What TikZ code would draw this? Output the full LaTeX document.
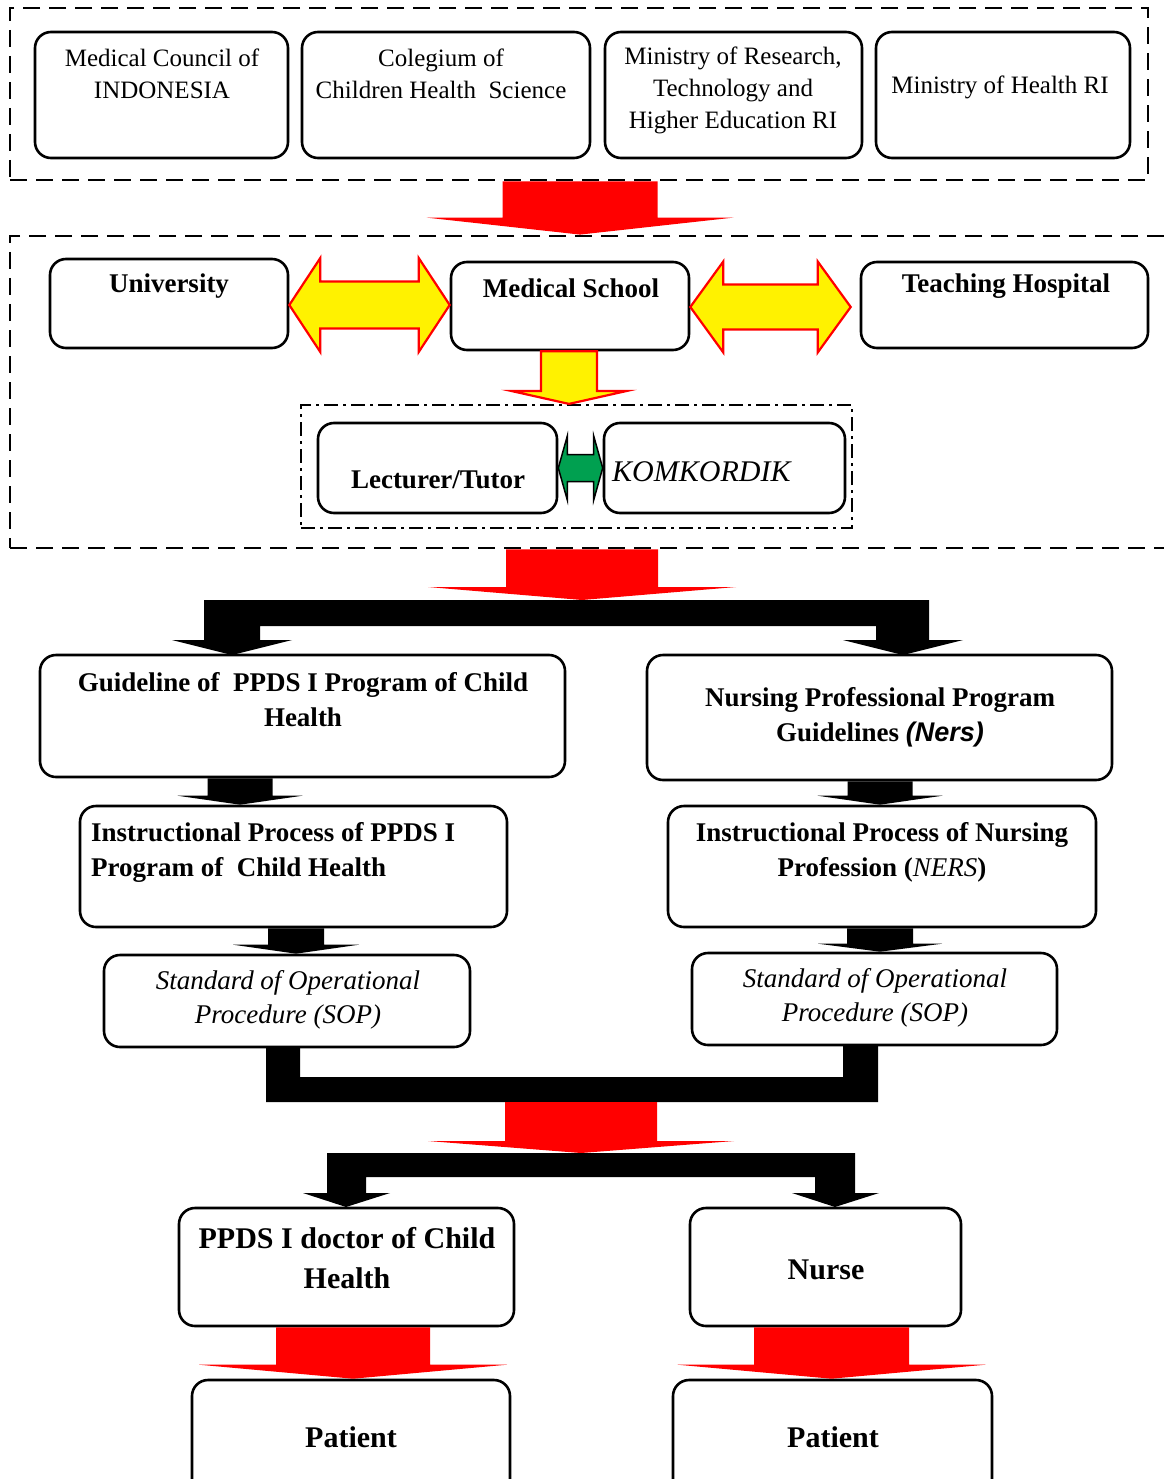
\documentclass[tikz,border=0pt]{standalone}
\usepackage{fontspec}
\setmainfont{Liberation Serif}
\newfontfamily\sansf{Liberation Sans}
\usetikzlibrary{calc}
\definecolor{grn}{RGB}{0,160,80}
% box from (x1,y1) to (x2,y2) in pixel coordinates
\newcommand\bx[6][]{\node[#1, minimum width={(#5)-(#3)}, minimum height={(#6)-(#4)}] (#2) at ({((#3)+(#5))/2},{((#4)+(#6))/2}) {};}
% vertical block arrow: start point, tip point, shaft half width, head half width, head length
\newcommand\blkdown[6][]{\path[#1] let \p1=#2, \p2=#3 in (\x1-#4pt,\y1) -- (\x1-#4pt,\y2+#6pt) -- (\x1-#5pt,\y2+#6pt) -- (\x1,\y2) -- (\x1+#5pt,\y2+#6pt) -- (\x1+#4pt,\y2+#6pt) -- (\x1+#4pt,\y1) -- cycle;}
% horizontal double block arrow: left tip, right tip, shaft half height, head half height, head length
\newcommand\blkdbl[6][]{\path[#1] let \p1=#2, \p2=#3 in (\x1,\y1) -- (\x1+#6pt,\y1+#5pt) -- (\x1+#6pt,\y1+#4pt) -- (\x2-#6pt,\y1+#4pt) -- (\x2-#6pt,\y1+#5pt) -- (\x2,\y1) -- (\x2-#6pt,\y1-#5pt) -- (\x2-#6pt,\y1-#4pt) -- (\x1+#6pt,\y1-#4pt) -- (\x1+#6pt,\y1-#5pt) -- cycle;}
\begin{document}
\begin{tikzpicture}[x=1pt,y=-1pt,
  box/.style={draw=black, line width=2.6pt, rounded corners=16pt, fill=white, inner sep=0pt},
  grp/.style={draw=black, line width=2.8pt, dash pattern=on 17pt off 9pt, inner sep=0pt},
  grpdd/.style={draw=black, line width=2.2pt, dash pattern=on 14pt off 5pt on 3pt off 5pt, inner sep=0pt},
  tr/.style={font=\fontsize{25}{32}\selectfont, align=center, inner sep=0pt},
  tb/.style={font=\fontsize{27}{35}\selectfont\bfseries, align=center, inner sep=0pt},
  ti/.style={font=\fontsize{27}{34}\selectfont\itshape, align=center, inner sep=0pt},
  tbl/.style={font=\fontsize{30}{40}\selectfont\bfseries, align=center, inner sep=0pt},
  redarr/.style={fill=red},
  yelarr/.style={fill=yellow, draw=red, line width=2.2pt, line join=miter},
  grnarr/.style={fill=grn, draw=black, line width=1.5pt, line join=miter},
  blkarr/.style={fill=black},
]
\useasboundingbox[fill=white] (0,0) rectangle (1163,1479);

% groups
\bx[grp]{topgrp}{10}{8}{1148}{180}
\bx[grp]{midgrp}{10}{236}{1172}{548}
\bx[grpdd]{kk}{301}{405}{852}{528}

% top row
\bx[box]{mc}{35}{32}{288}{158}
\bx[box]{col}{302}{32}{590}{158}
\bx[box]{mrt}{605}{32}{862}{158}
\bx[box]{moh}{876}{32}{1130}{158}
% second row
\bx[box]{uni}{50}{259}{288}{348}
\bx[box]{ms}{451}{262}{689}{350}
\bx[box]{th}{861}{262}{1148}{348}
\bx[box]{lt}{318}{423}{557}{513}
\bx[box]{kom}{604}{423}{845}{513}
% programs
\bx[box]{gl}{40}{655}{565}{777}
\bx[box]{np}{647}{655}{1112}{780}
\bx[box]{ipl}{80}{806}{507}{927}
\bx[box]{ipr}{668}{806}{1096}{927}
\bx[box]{sopl}{104}{955}{470}{1047}
\bx[box]{sopr}{692}{953}{1057}{1045}
% outcomes
\bx[box]{doc}{179}{1208}{514}{1326}
\bx[box]{nurse}{690}{1208}{961}{1326}
\bx[box]{pat1}{192}{1380}{510}{1500}
\bx[box]{pat2}{673}{1380}{992}{1500}

% connector points
\coordinate (t1top) at (581,600);
\coordinate (ubot) at (581,1102);
\coordinate (t2top) at (581,1153);

% arrows
\blkdown[redarr]{([xshift=1pt]topgrp.south)}{(midgrp.north)}{77.5}{153.5}{17}
\blkdbl[yelarr]{([yshift=-1.5pt]uni.east)}{(ms.west)}{23.5}{47}{31}
\blkdbl[yelarr]{([yshift=-1pt]ms.east)}{([xshift=-9pt]th.west)}{22.5}{45.5}{33}
\blkdown[yelarr]{([xshift=-1pt]ms.south)}{(kk.north)}{28}{58}{13}
\blkdbl[grnarr]{(lt.east)}{(kom.west)}{13.5}{32}{9}
\blkdown[redarr]{([xshift=-9pt]midgrp.south)}{(t1top)}{76}{154}{13}

% first split connector
\fill[black] (204,600) -- (929,600) -- (929,640) -- (963,640) -- (903,655) -- (843,640) -- (876,640) -- (876,626) -- (260,626) -- (260,640) -- (292,640) -- (232,655) -- (172,640) -- (204,640) -- cycle;

\blkdown[blkarr]{([xshift=-62.5pt]gl.south)}{(ipl.north)}{32.5}{62.5}{9}
\blkdown[blkarr]{([xshift=0.5pt]np.south)}{(ipr.north)}{32.5}{62.5}{9}
\blkdown[blkarr]{([xshift=2.5pt]ipl.south)}{(sopl.north)}{28}{63}{9}
\blkdown[blkarr]{([xshift=-2pt]ipr.south)}{(sopr.north)}{33}{62}{8}

% merge connector
\fill[black] (266,1047) -- (300,1047) -- (300,1077) -- (843,1077) -- (843,1045) -- (878,1045) -- (878,1102) -- (266,1102) -- cycle;
\blkdown[redarr]{(ubot)}{(t2top)}{76}{153}{12}
% second split connector
\fill[black] (327,1153) -- (855,1153) -- (855,1193) -- (879,1193) -- (835,1207) -- (792,1193) -- (815,1193) -- (815,1177) -- (366,1177) -- (366,1193) -- (390,1193) -- (346,1207) -- (303,1193) -- (327,1193) -- cycle;

\blkdown[redarr]{([xshift=6.5pt]doc.south)}{(pat1.north)}{77}{154}{14}
\blkdown[redarr]{([xshift=6pt]nurse.south)}{(pat2.north)}{77.5}{154}{14}

% texts
\node[tr] (mct) at (162,74) {Medical Council of\\INDONESIA};
\node[tr] (colt) at (441,74) {Colegium of\\Children Health\ \ Science};
\node[tr] (mrtt) at (733,90) {Ministry of Research,\\Technology and\\Higher Education RI};
\node[tr] (moht) at (1000,87) {Ministry of Health RI};
\node[tb] (unit) at (169,286) {University};
\node[tb] (mst) at (571,288) {Medical School};
\node[tb] (tht) at (1006,286) {Teaching Hospital};
\node[tb] (ltt) at (438,480) {Lecturer/Tutor};
\node[tr, font=\fontsize{30}{36}\selectfont\itshape, anchor=west] (komt) at (612,472) {KOMKORDIK};
\node[tb] (glt) at (303,700) {Guideline of\ \ PPDS I Program of Child\\Health};
\node[tb] (npt) at (880,717) {Nursing Professional Program\\Guidelines {\sansf\itshape (Ners)}};
\node[tb, align=left, anchor=west] (iplt) at (91,852) {Instructional Process of PPDS I\\Program of\ \ Child Health};
\node[tb] (iprt) at (882,852) {Instructional Process of Nursing\\Profession ({\mdseries\itshape NERS})};
\node[ti] (soplt) at (288,1000) {Standard of Operational\\Procedure (SOP)};
\node[ti] (soprt) at (875,998) {Standard of Operational\\Procedure (SOP)};
\node[tbl] (doct) at (347,1258) {PPDS I doctor of Child\\Health};
\node[tbl] (nurset) at (826,1270) {Nurse};
\node[tbl] (pat1t) at (351,1437) {Patient};
\node[tbl] (pat2t) at (833,1437) {Patient};
\end{tikzpicture}
\end{document}
